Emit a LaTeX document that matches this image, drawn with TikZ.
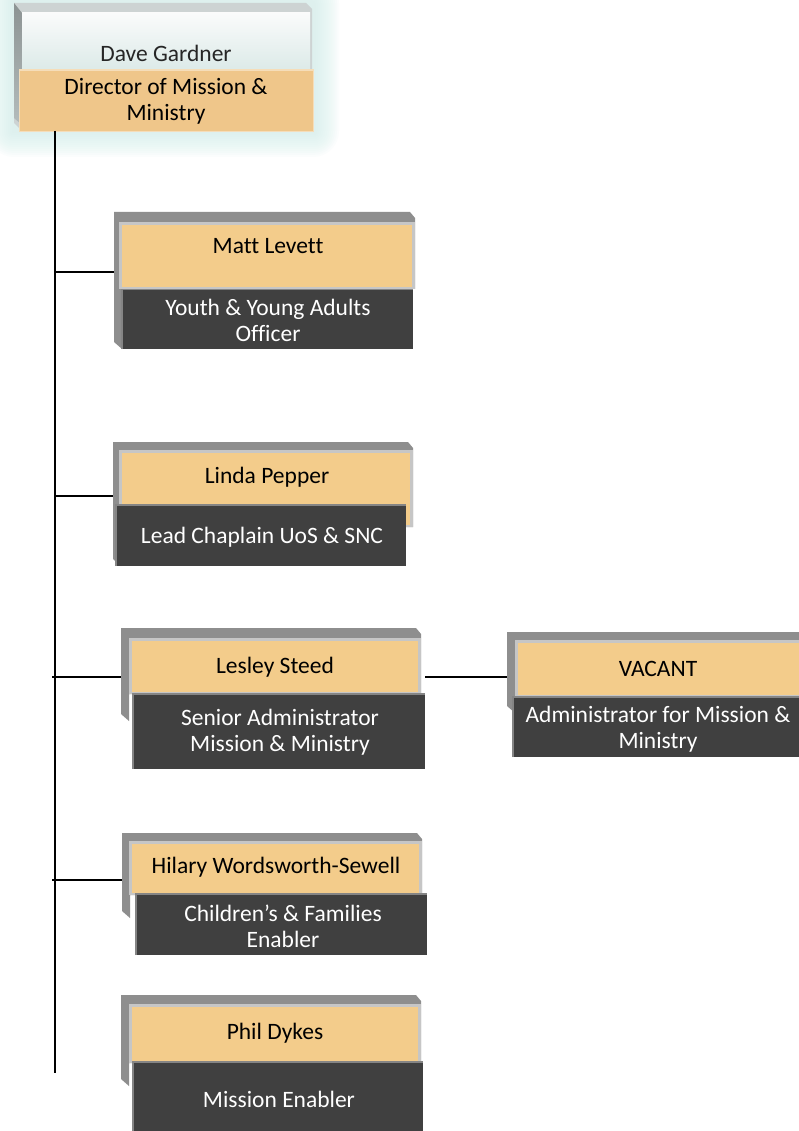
\documentclass[tikz,border=0pt]{standalone}
\usepackage{fontspec}
\setmainfont{Carlito}[Ligatures=NoCommon]
\definecolor{org}{HTML}{F3CC8B}
\definecolor{orgtop}{HTML}{EFC68A}
\definecolor{bevel}{HTML}{8E8E8E}
\definecolor{rim}{HTML}{C6C6C6}
\definecolor{darkfill}{HTML}{404040}
\definecolor{darkrim}{HTML}{858585}
\definecolor{glowc}{HTML}{D5F0EC}
\definecolor{topback}{HTML}{CDD3D3}
\definecolor{topside1}{HTML}{8C9393}
\definecolor{topside2}{HTML}{B4BCBC}
\definecolor{topface1}{HTML}{FAFBFB}
\definecolor{topface2}{HTML}{DCEAE8}
\newcommand\backface[5]{\fill[bevel] (#1,#2) -- ({#3-5},#2) -- (#3,{#2+6}) -- (#3,{#5+2}) -- ({#1+8},{#5+2}) -- ({#1+8},{#4+7}) -- (#1,#4) -- cycle;}
\newcommand\orangeface[4]{\fill[rim] ({#1-3},{#2-3}) rectangle ({#3+3},{#4+2}); \fill[org] (#1,#2) rectangle (#3,#4);}
\newcommand\darkface[4]{\fill[darkfill] (#1,#2) rectangle (#3,#4); \draw[darkrim, line width=1.5] ({#1+0.75},#4) -- ({#1+0.75},{#2+0.75}) -- (#3,{#2+0.75});}
\begin{document}
\begin{tikzpicture}[x=1pt,y=-1pt,
  nm/.style={font=\fontsize{23.5}{26}\selectfont, text=black, align=center, inner sep=0pt},
  rl/.style={nm, text=white},
  conn/.style={draw=black, line width=2pt}]
\clip (0,0) rectangle (799,1131);
\fill[white] (0,0) rectangle (799,1131);
% ---- top box (Dave Gardner) with soft glow
\foreach \g in {26,24,...,2}
  \fill[glowc, opacity=0.09, rounded corners=\g] ({14-\g},{3-\g}) rectangle ({313+\g},{131+\g});
\fill[topback] (14,3) -- (306,3) -- (312,9) -- (312,131) -- (22,131) -- (14,123) -- cycle;
\shade[top color=topside1, bottom color=topside2] (14,3) -- (22,13) -- (22,125) -- (14,118) -- cycle;
\shade[top color=topface1, bottom color=topface2] (22,13) rectangle (310,70);
\fill[orgtop!60!white] (19,69) rectangle (314,132);
\fill[orgtop] (20,71) rectangle (313,131);
\node[nm, text=black!85] (dave) at (166,53) {Dave Gardner};
\node[nm] (director) at (166,101) {Director of Mission \&\\Ministry};
% ---- Matt Levett
\backface{114}{212}{415}{342}{287}
\orangeface{122}{225}{412}{287}
\darkface{121}{289}{413}{349}
\node[nm] (matt) at (268,246) {Matt Levett};
\node[rl] (mattrole) at (268,320) {Youth \& Young Adults\\Officer};
% ---- Linda Pepper
\backface{113}{442}{413}{559}{525}
\orangeface{122}{453}{410}{525}
\darkface{115}{504}{406}{566}
\node[nm] (linda) at (267,477) {Linda Pepper};
\node[rl] (lindarole) at (262,537) {Lead Chaplain UoS \& SNC};
% ---- Lesley Steed
\backface{121}{628}{421}{714}{692}
\orangeface{132}{641}{418}{692}
\darkface{132}{693}{425}{769}
\node[nm] (lesley) at (275,667) {Lesley Steed};
\node[rl] (lesleyrole) at (280,732) {Senior Administrator\\Mission \& Ministry};
% ---- VACANT
\backface{507}{632}{812}{706}{695}
\orangeface{518}{643}{812}{695}
\darkface{512}{696}{812}{757}
\node[nm] (vacant) at (658,669) {VACANT};
\node[rl] (vacantrole) at (658,729) {Administrator for Mission \&\\Ministry};
% ---- Hilary Wordsworth-Sewell
\backface{122}{833}{422}{911}{893}
\orangeface{132}{844}{419}{893}
\darkface{135}{893}{427}{955}
\node[nm] (hilary) at (276,867) {Hilary Wordsworth-Sewell};
\node[rl] (hilaryrole) at (283,926) {Children’s \& Families\\Enabler};
% ---- Phil Dykes
\backface{121}{995}{421}{1079}{1061}
\orangeface{132}{1007}{418}{1061}
\darkface{132}{1061}{423}{1140}
\node[nm] (phil) at (275,1033) {Phil Dykes};
\node[rl] (philrole) at (279,1099) {Mission Enabler};
% ---- connectors
\coordinate (trunktop) at (55,131);
\coordinate (trunkend) at (55,1073);
\coordinate (mattin) at (114,272);
\coordinate (lindain) at (113,496);
\coordinate (lesleyin) at (121,677);
\coordinate (lesleyout) at (425,677);
\coordinate (vacantin) at (507,677);
\coordinate (hilaryin) at (122,880);
\draw[conn] (trunktop) -- (trunkend);
\draw[conn] (trunktop |- mattin) -- (mattin);
\draw[conn] (trunktop |- lindain) -- (lindain);
\draw[conn] ([xshift=-3pt]trunktop |- lesleyin) -- (lesleyin);
\draw[conn] (lesleyout) -- (vacantin);
\draw[conn] ([xshift=-3pt]trunktop |- hilaryin) -- (hilaryin);
\end{tikzpicture}
\end{document}
